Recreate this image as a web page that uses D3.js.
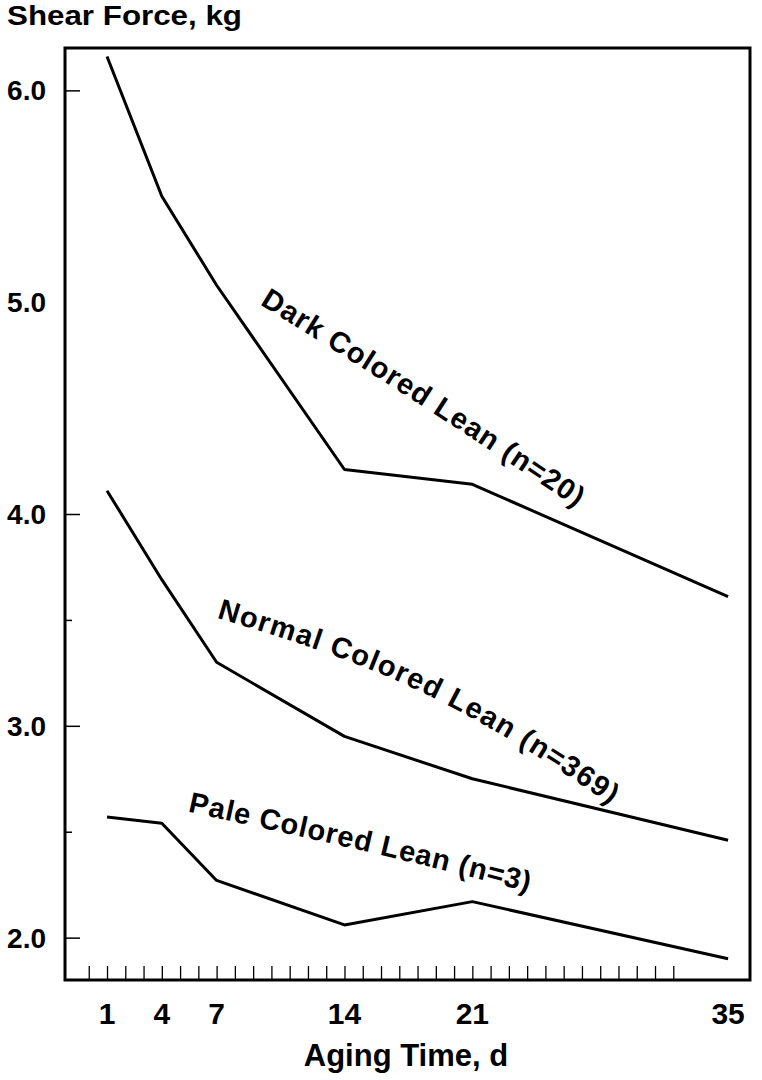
<!DOCTYPE html>
<html>
<head>
<meta charset="utf-8">
<script src="https://cdn.jsdelivr.net/npm/d3@7"></script>
<style>
  body { margin: 0; background: #fff; }
  svg text { font-family: "Liberation Sans", Arial, sans-serif; font-weight: bold; fill: #000; }
</style>
</head>
<body>
<div id="chart"></div>
<script>
// aging days where shear force was measured
var days = [1, 4, 7, 14, 21, 35];

// shear force (kg) for each colour group
var darkValues = [6.16, 5.50, 5.08, 4.21, 4.14, 3.61];
var normalValues = [4.11, 3.69, 3.30, 2.95, 2.75, 2.46];
var paleValues = [2.57, 2.54, 2.27, 2.06, 2.17, 1.90];

var seriesNames = ["Dark Colored Lean (n=20)", "Normal Colored Lean (n=369)", "Pale Colored Lean (n=3)"];

// label baselines, in data units (day, kg)
var darkLabelPath = [[9.35, 4.99], [18.6, 4.49], [27.9, 3.96], [30.0, 3.83]];
var normalLabelPath = [[7.0, 3.51], [18.2, 3.16], [28.0, 2.66], [31.0, 2.45]];
var paleLabelPath = [[5.4, 2.595], [16.0, 2.39], [24.3, 2.21], [27.0, 2.14]];

var yTickLabels = [2.0, 3.0, 4.0, 5.0, 6.0];
var yMajorTicks = [2.0, 3.0, 4.0, 6.0];
var yMinorTicks = [2.5, 3.5];
var xTickLabels = [1, 4, 7, 14, 21, 35];
var xMinorTicks = d3.range(0, 33);

var width = 762, height = 1080;
var svg = d3.select("#chart").append("svg")
  .attr("width", width)
  .attr("height", height);

var x = d3.scaleLinear().domain([-1.3, 36.2]).range([65, 750]);
var y = d3.scaleLinear().domain([1.8, 6.2]).range([980, 48]);

// strip the domain line and the empty labels d3.axis adds
function bareTicks(g) {
  g.select(".domain").remove();
  g.selectAll("text").remove();
}

/** Axis ticks */
svg.append("g")
  .attr("transform", "translate(0,980)")
  .call(d3.axisTop(x).tickValues(xMinorTicks).tickSize(14).tickFormat(""))
  .call(bareTicks)
  .selectAll("line").attr("stroke", "#000").attr("stroke-width", 1.3);

svg.append("g")
  .attr("transform", "translate(65,0)")
  .call(d3.axisRight(y).tickValues(yMajorTicks).tickSize(15).tickFormat(""))
  .call(bareTicks)
  .selectAll("line").attr("stroke", "#000").attr("stroke-width", 1.5);

svg.append("g")
  .attr("transform", "translate(65,0)")
  .call(d3.axisRight(y).tickValues(yMinorTicks).tickSize(7).tickFormat(""))
  .call(bareTicks)
  .selectAll("line").attr("stroke", "#000").attr("stroke-width", 1.5);

/** Frame */
svg.append("rect")
  .attr("x", x.range()[0])
  .attr("y", y.range()[1])
  .attr("width", x.range()[1] - x.range()[0])
  .attr("height", y.range()[0] - y.range()[1])
  .attr("fill", "none")
  .attr("stroke", "#000")
  .attr("stroke-width", 3);

/** Tick labels */
svg.append("g").selectAll("text")
  .data(yTickLabels)
  .join("text")
  .attr("x", 46)
  .attr("y", function(d) { return y(d) + 10; })
  .attr("text-anchor", "end")
  .style("font-size", "28px")
  .text(function(d) { return d.toFixed(1); });

svg.append("g").selectAll("text")
  .data(xTickLabels)
  .join("text")
  .attr("x", function(d) { return x(d); })
  .attr("y", 1024)
  .attr("text-anchor", "middle")
  .style("font-size", "30px")
  .text(function(d) { return d; });

/** Axis titles */
svg.append("text")
  .attr("x", 7)
  .attr("y", 25)
  .attr("textLength", 235)
  .attr("lengthAdjust", "spacingAndGlyphs")
  .style("font-size", "27px")
  .text("Shear Force, kg");

svg.append("text")
  .attr("x", 406)
  .attr("y", 1066)
  .attr("text-anchor", "middle")
  .style("font-size", "31px")
  .text("Aging Time, d");

/** Lines */
var line = d3.line()
  .x(function(d) { return x(d[0]); })
  .y(function(d) { return y(d[1]); });

var seriesValues = [darkValues, normalValues, paleValues];
svg.append("g").selectAll("path")
  .data(seriesValues)
  .join("path")
  .attr("d", function(vals) { return line(vals.map(function(v, i) { return [days[i], v]; })); })
  .attr("fill", "none")
  .attr("stroke", "#000")
  .attr("stroke-width", 3)
  .attr("stroke-linejoin", "round");

/** Curved series labels */
var labelLine = d3.line()
  .x(function(d) { return x(d[0]); })
  .y(function(d) { return y(d[1]); })
  .curve(d3.curveNatural);

var labelPaths = [darkLabelPath, normalLabelPath, paleLabelPath];
var labelLengths = [376, 438, 350];
var defs = svg.append("defs");
labelPaths.forEach(function(pts, i) {
  defs.append("path")
    .attr("id", "labelPath" + i)
    .attr("d", labelLine(pts));
  var t = svg.append("text").style("font-size", "29px");
  t.append("textPath")
    .attr("href", "#labelPath" + i)
    .text(seriesNames[i]);
  var natural = t.node().getComputedTextLength();
  var spacing = (labelLengths[i] - natural) / (seriesNames[i].length - 1);
  t.style("letter-spacing", spacing + "px");
});
</script>
</body>
</html>
